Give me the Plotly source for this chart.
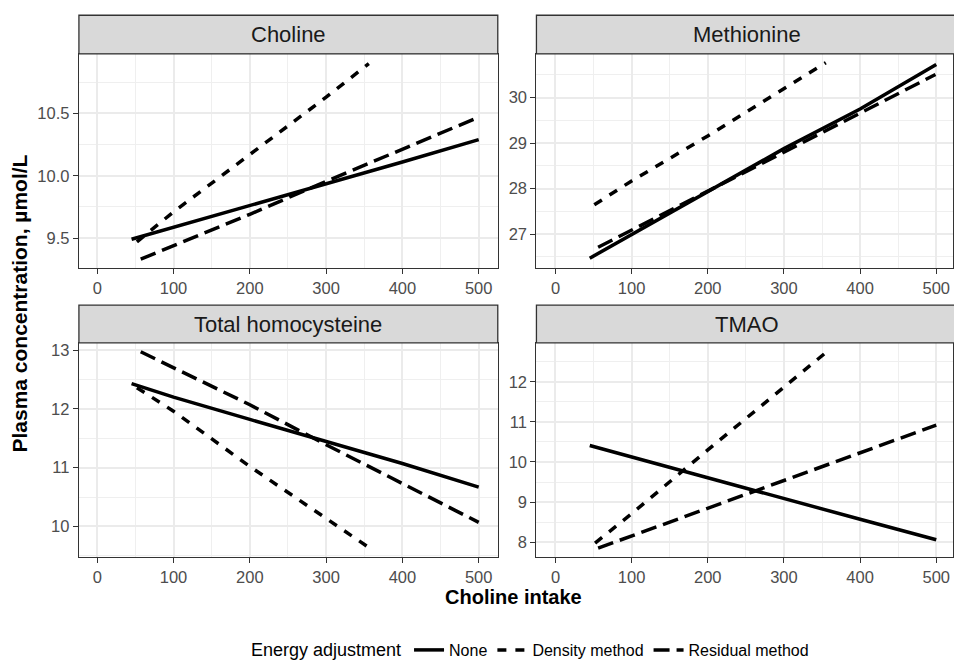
import plotly.graph_objects as go

# ---------------- data ----------------
panels = ["Choline", "Methionine", "Total homocysteine", "TMAO"]
methods = ["None", "Density method", "Residual method"]

# Choline panel
choline_none_x = [45, 200, 300, 400, 500]
choline_none_y = [9.49, 9.76, 9.93, 10.11, 10.29]
choline_density_x = [52, 100, 200, 300, 356]
choline_density_y = [9.47, 9.71, 10.17, 10.63, 10.90]
choline_residual_x = [57, 200, 300, 400, 500]
choline_residual_y = [9.33, 9.69, 9.955, 10.21, 10.47]

# Methionine panel
methionine_none_x = [45, 200, 300, 400, 500]
methionine_none_y = [26.47, 27.93, 28.88, 29.75, 30.73]
methionine_density_x = [51, 100, 200, 300, 355]
methionine_density_y = [27.645, 28.17, 29.16, 30.19, 30.77]
methionine_residual_x = [56, 200, 300, 400, 499]
methionine_residual_y = [26.71, 27.94, 28.81, 29.66, 30.51]

# Total homocysteine panel
homocysteine_none_x = [45, 100, 200, 300, 400, 500]
homocysteine_none_y = [12.43, 12.20, 11.82, 11.45, 11.07, 10.67]
homocysteine_density_x = [52, 100, 200, 300, 354]
homocysteine_density_y = [12.36, 11.96, 11.02, 10.13, 9.66]
homocysteine_residual_x = [57, 200, 300, 400, 500]
homocysteine_residual_y = [12.97, 12.07, 11.39, 10.73, 10.07]

# TMAO panel
tmao_none_x = [45, 200, 300, 400, 500]
tmao_none_y = [10.41, 9.60, 9.09, 8.57, 8.06]
tmao_density_x = [52, 100, 200, 300, 355]
tmao_density_y = [7.975, 8.71, 10.30, 11.87, 12.73]
tmao_residual_x = [56, 200, 300, 400, 500]
tmao_residual_y = [7.85, 8.85, 9.54, 10.23, 10.92]

x_ticks = [0, 100, 200, 300, 400, 500]
y_ticks = {
    "Choline": [9.5, 10.0, 10.5],
    "Methionine": [27, 28, 29, 30],
    "Total homocysteine": [10, 11, 12, 13],
    "TMAO": [8, 9, 10, 11, 12],
}
y_tickfmt = {"Choline": ".1f", "Methionine": "d", "Total homocysteine": "d", "TMAO": "d"}
y_minor = {"Choline": 0.25, "Methionine": 0.5, "Total homocysteine": 0.5, "TMAO": 0.5}
y_ranges = {
    "Choline": [9.258, 10.978],
    "Methionine": [26.25, 30.965],
    "Total homocysteine": [9.475, 13.12],
    "TMAO": [7.62, 12.97],
}

data = {
    "Choline": [(choline_none_x, choline_none_y), (choline_density_x, choline_density_y),
                (choline_residual_x, choline_residual_y)],
    "Methionine": [(methionine_none_x, methionine_none_y), (methionine_density_x, methionine_density_y),
                   (methionine_residual_x, methionine_residual_y)],
    "Total homocysteine": [(homocysteine_none_x, homocysteine_none_y),
                           (homocysteine_density_x, homocysteine_density_y),
                           (homocysteine_residual_x, homocysteine_residual_y)],
    "TMAO": [(tmao_none_x, tmao_none_y), (tmao_density_x, tmao_density_y),
             (tmao_residual_x, tmao_residual_y)],
}

# ---------------- layout geometry ----------------
W, H = 954, 667
FONT = "Liberation Sans, Arial, sans-serif"
dashes = {"None": "solid", "Density method": "9px,9px", "Residual method": "16px,7px"}

col_px = [(79, 498.3), (537, 954)]
row_px = [(52, 267), (342, 557)]      # plot area top/bottom (px from top)
strip_px = [(13.3, 52), (304, 342)]
x_ranges = [[-24, 525], [-25, 522]]

fig = go.Figure()

for i, panel in enumerate(panels):
    r, c = divmod(i, 2)
    ax = "" if i == 0 else str(i + 1)
    for j, m in enumerate(methods):
        xs, ys = data[panel][j]
        fig.add_trace(go.Scatter(
            x=xs, y=ys, mode="lines", name=m, legendgroup=m,
            showlegend=(i == 0),
            line=dict(color="black", width=3.5, dash=dashes[m]),
            xaxis="x" + ax, yaxis="y" + ax,
        ))
    x0, x1 = col_px[c]
    t, b = row_px[r]
    common = dict(
        showline=True, mirror=True, linecolor="#333333", linewidth=1.3,
        ticks="outside", ticklen=5, tickcolor="#333333", tickwidth=1,
        tickfont=dict(family=FONT, size=16.5, color="#4D4D4D"),
        showgrid=True, gridcolor="#EBEBEB", gridwidth=1.6, zeroline=False,
    )
    fig.layout["xaxis" + ax] = dict(
        domain=[x0 / W, min(x1 / W, 1.0)], anchor="y" + ax, range=x_ranges[c],
        tickvals=x_ticks, minor=dict(dtick=50, tick0=0, showgrid=True, gridcolor="#EFEFEF", gridwidth=0.8, ticks=""),
        **common,
    )
    fig.layout["yaxis" + ax] = dict(
        domain=[1 - b / H, 1 - t / H], anchor="x" + ax, range=y_ranges[panel],
        tickvals=y_ticks[panel], tickformat=y_tickfmt[panel],
        minor=dict(dtick=y_minor[panel], tick0=0, showgrid=True, gridcolor="#EFEFEF", gridwidth=0.8, ticks=""),
        **common,
    )
    # strip
    st, sb = strip_px[r]
    fig.add_shape(type="rect", xref="paper", yref="paper",
                  x0=x0 / W, x1=min(x1 / W, 1.0) + (0.01 if c == 1 else 0),
                  y0=1 - sb / H, y1=1 - st / H,
                  fillcolor="#D9D9D9", line=dict(color="#333333", width=1.3), layer="above")
    fig.add_annotation(text=panel, xref="paper", yref="paper",
                       x=(x0 + (x1 if c == 0 else 958)) / 2 / W, y=1 - (st + sb) / 2 / H,
                       showarrow=False, xanchor="center", yanchor="middle",
                       font=dict(family=FONT, size=22, color="#1A1A1A"))

# axis titles
fig.add_annotation(text="<b>Choline intake</b>", xref="paper", yref="paper",
                   x=514 / W, y=1 - 597 / H, showarrow=False, xanchor="center", yanchor="middle",
                   font=dict(family=FONT, size=20, color="black"))
fig.add_annotation(text="<b>Plasma concentration, µmol/L</b>", xref="paper", yref="paper",
                   x=20 / W, y=1 - 302.5 / H, showarrow=False, textangle=-90,
                   xanchor="center", yanchor="middle",
                   font=dict(family=FONT, size=21, color="black"))

fig.update_layout(
    width=W, height=H, margin=dict(l=0, r=0, t=0, b=0),
    paper_bgcolor="white", plot_bgcolor="white",
    font=dict(family=FONT),
    legend=dict(orientation="h", x=532 / W, xanchor="center", y=0.0, yanchor="bottom",
                title=dict(text="Energy adjustment", font=dict(family=FONT, size=18, color="black"), side="left"),
                font=dict(family=FONT, size=16, color="black"), itemwidth=30,
                bgcolor="rgba(0,0,0,0)"),
)

fig.write_html("out.html")
